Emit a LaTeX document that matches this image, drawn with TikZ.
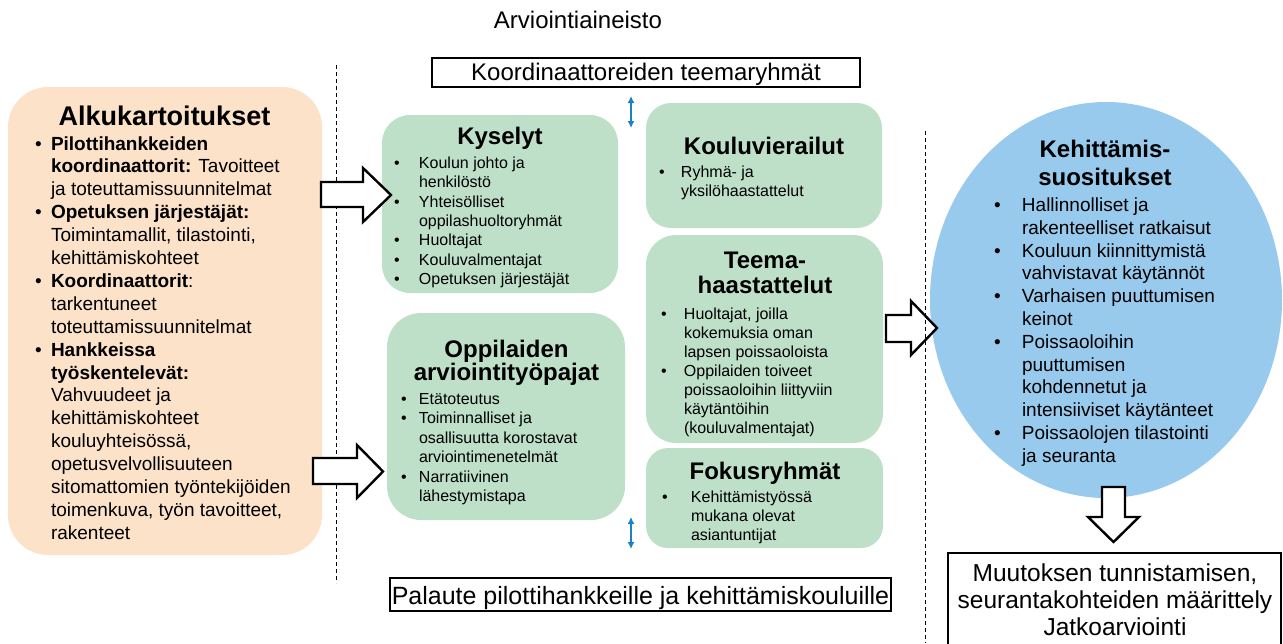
\documentclass[tikz,border=0pt]{standalone}
\usepackage{fontspec}
\setmainfont{Liberation Sans}
\usetikzlibrary{arrows.meta,shapes.geometric}
\definecolor{peach}{RGB}{251,226,201}
\definecolor{mint}{RGB}{190,224,201}
\definecolor{sky}{RGB}{152,202,237}
\definecolor{arrowblue}{RGB}{25,128,204}
\newlength{\bulgap}
\newcommand{\bul}{\leavevmode\llap{\makebox[\bulgap][l]{\textbullet}}}
\newcommand{\fsz}[2]{\fontsize{#1}{#2}\selectfont}
\begin{document}
\begin{tikzpicture}[x=1pt,y=-1pt,
  every node/.style={inner sep=0pt, outer sep=0pt},
  rbox/.style={anchor=north west, rounded corners=#1},
  rbox/.default=28pt,
  txt/.style={anchor=base west},
  ttl/.style={anchor=base},
  blockarrow/.style={draw=black, line width=2.4pt, fill=white, line join=miter},
  sepline/.style={draw=black, line width=0.9pt, dash pattern=on 4pt off 3pt},
  frame/.style={draw=black, line width=2.5pt, fill=white, anchor=north west},
  dbl/.style={draw=arrowblue, line width=2pt, {Latex[length=7pt,width=7pt]}-{Latex[length=7pt,width=7pt]}}
]
\useasboundingbox (0,0) rectangle (1283,643);
\clip (0,0) rectangle (1283,643);

% separators
\coordinate (s1a) at (336,65);  \coordinate (s1b) at (336,583);
\coordinate (s2a) at (925,131); \coordinate (s2b) at (925,643);
\draw[sepline] (s1a) -- (s1b);

% boxes
\node[rbox=40pt, fill=peach, minimum width=314pt, minimum height=468pt] (alku) at (8,87) {};
\node[rbox=28pt, fill=mint, minimum width=236pt, minimum height=178pt] (kys) at (382,115) {};
\node[rbox=34pt, fill=mint, minimum width=238pt, minimum height=207pt] (opp) at (387,313) {};
\node[rbox=25pt, fill=mint, minimum width=236pt, minimum height=125pt] (kv) at (646,103) {};
\node[rbox=30pt, fill=mint, minimum width=237pt, minimum height=208pt] (tee) at (646,235) {};
\node[rbox=22pt, fill=mint, minimum width=237pt, minimum height=100pt] (fok) at (646,448) {};
\node[ellipse, fill=sky, minimum width=352pt, minimum height=396pt] (keh) at (1106,300) {};

% frames
\node[frame, minimum width=428pt, minimum height=29pt] (koord) at (432,58) {};
\node[frame, minimum width=501pt, minimum height=33pt] (pal) at (390,578) {};
\node[frame, minimum width=333pt, minimum height=110pt] (muut) at (948,553) {};

% block arrows
\draw[blockarrow] (321,182) -- (363,182) -- (363,168) -- (391,195) -- (363,222) -- (363,207) -- (321,207) -- cycle;
\draw[blockarrow] (313,458) -- (357,458) -- (357,445) -- (383,471.5) -- (357,498) -- (357,484) -- (313,484) -- cycle;
\draw[blockarrow] (886,315) -- (911,315) -- (911,301) -- (937,328) -- (911,355) -- (911,342) -- (886,342) -- cycle;
\draw[blockarrow] (1102,487) -- (1125,487) -- (1125,517) -- (1139,517) -- (1113.5,542) -- (1088,517) -- (1102,517) -- cycle;
\draw[sepline] (s2a) -- (s2b);

% blue double arrows
\coordinate (u1) at (631,96);  \coordinate (u2) at (631,128);
\coordinate (d1) at (631,517); \coordinate (d2) at (631,549);
\draw[dbl] (u1) -- (u2);
\draw[dbl] (d1) -- (d2);

% top / frame texts
\node[ttl, font=\fsz{24}{28}] (arv) at (578,28) {Arviointiaineisto};
\node[ttl, font=\fsz{24}{28}] (koordt) at (646,80) {Koordinaattoreiden teemaryhmät};
\node[ttl, font=\fsz{25}{28}] (palt) at (640.5,604) {Palaute pilottihankkeille ja kehittämiskouluille};
\node[ttl, font=\fsz{24.5}{27}] (muutt) at (1115,581) {\parbox[t]{330pt}{\centering Muutoksen tunnistamisen,\\ seurantakohteiden määrittely\\ Jatkoarviointi}};

% Alkukartoitukset
\node[ttl, font=\bfseries\fsz{27}{30}] (alkut) at (164.5,125) {Alkukartoitukset};
\node[txt, font=\fsz{19}{22.9}] (alkub) at (51,150) {\parbox[t]{265pt}{\setlength{\bulgap}{16pt}\raggedright
\bul\textbf{Pilottihankkeiden}\\
\textbf{koordinaattorit:} Tavoitteet\\
ja toteuttamissuunnitelmat\\
\bul\textbf{Opetuksen järjestäjät:}\\
Toimintamallit, tilastointi,\\
kehittämiskohteet\\
\bul\textbf{Koordinaattorit}:\\
tarkentuneet\\
toteuttamissuunnitelmat\\
\bul\textbf{Hankkeissa}\\
\textbf{työskentelevät:}\\
Vahvuudeet ja\\
kehittämiskohteet\\
kouluyhteisössä,\\
opetusvelvollisuuteen\\
sitomattomien työntekijöiden\\
toimenkuva, työn tavoitteet,\\
rakenteet}};

% Kyselyt
\node[ttl, font=\bfseries\fsz{24}{28}] (kyst) at (500,144) {Kyselyt};
\node[txt, font=\fsz{16}{19.3}] (kysb) at (419,168.5) {\parbox[t]{195pt}{\setlength{\bulgap}{25pt}\raggedright
\bul Koulun johto ja\\
henkilöstö\\
\bul Yhteisölliset\\
oppilashuoltoryhmät\\
\bul Huoltajat\\
\bul Kouluvalmentajat\\
\bul Opetuksen järjestäjät}};

% Oppilaiden arviointityöpajat
\node[ttl, font=\bfseries\fsz{24}{23}] (oppt) at (506.5,357) {\parbox[t]{230pt}{\centering Oppilaiden\\ arviointityöpajat}};
\node[txt, font=\fsz{16}{19.4}] (oppb) at (419,404.5) {\parbox[t]{200pt}{\setlength{\bulgap}{18pt}\raggedright
\bul Etätoteutus\\
\bul Toiminnalliset ja\\
osallisuutta korostavat\\
arviointimenetelmät\\
\bul Narratiivinen\\
lähestymistapa}};

% Kouluvierailut
\node[ttl, font=\bfseries\fsz{24}{28}] (kvt) at (764,154) {Kouluvierailut};
\node[txt, font=\fsz{16}{18.6}] (kvb) at (681,177.5) {\parbox[t]{190pt}{\setlength{\bulgap}{22pt}\raggedright
\bul Ryhmä- ja\\
yksilöhaastattelut}};

% Teemahaastattelut
\node[ttl, font=\bfseries\fsz{24}{25}] (teet) at (765,268) {\parbox[t]{230pt}{\centering Teema-\\ haastattelut}};
\node[txt, font=\fsz{16}{19}] (teeb) at (684,319.5) {\parbox[t]{190pt}{\setlength{\bulgap}{23pt}\raggedright
\bul Huoltajat, joilla\\
kokemuksia oman\\
lapsen poissaoloista\\
\bul Oppilaiden toiveet\\
poissaoloihin liittyviin\\
käytäntöihin\\
(kouluvalmentajat)}};

% Fokusryhmät
\node[ttl, font=\bfseries\fsz{24}{28}] (fokt) at (765,479) {Fokusryhmät};
\node[txt, font=\fsz{16}{19}] (fokb) at (691,502.5) {\parbox[t]{180pt}{\setlength{\bulgap}{29pt}\raggedright
\bul Kehittämistyössä\\
mukana olevat\\
asiantuntijat}};

% Kehittämissuositukset
\node[ttl, font=\bfseries\fsz{24}{28}] (keht) at (1105,157) {\parbox[t]{250pt}{\centering Kehittämis-\\ suositukset}};
\node[txt, font=\fsz{19}{22.8}] (kehb) at (1022,211.5) {\parbox[t]{240pt}{\setlength{\bulgap}{28pt}\raggedright
\bul Hallinnolliset ja\\
rakenteelliset ratkaisut\\
\bul Kouluun kiinnittymistä\\
vahvistavat käytännöt\\
\bul Varhaisen puuttumisen\\
keinot\\
\bul Poissaoloihin\\
puuttumisen\\
kohdennetut ja\\
intensiiviset käytänteet\\
\bul Poissaolojen tilastointi\\
ja seuranta}};
\end{tikzpicture}
\end{document}
